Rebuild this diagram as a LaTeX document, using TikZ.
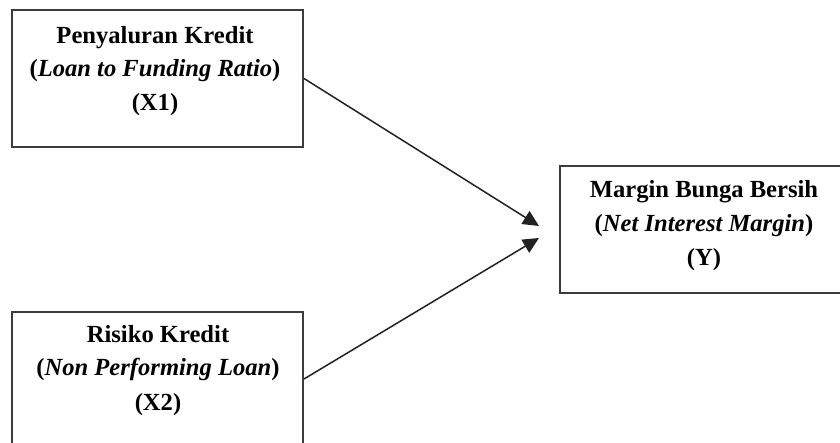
\documentclass[tikz,border=0pt]{standalone}
\usepackage{fontspec}
\setmainfont{Liberation Serif}
\usetikzlibrary{arrows.meta}
\definecolor{boxgray}{HTML}{3C3C3C}
\definecolor{arrowgray}{HTML}{222222}
\begin{document}
\begin{tikzpicture}[x=0.5pt,y=-0.5pt,
  boxst/.style={draw=boxgray, line width=1pt, fill=white, inner sep=0pt},
  lbl/.style={anchor=base, inner sep=0pt, font=\fontsize{12.3}{15}\selectfont\bfseries},
  arr/.style={draw=arrowgray, line width=0.75pt, -{Triangle[length=8pt,width=7.5pt]}}]
\useasboundingbox (0,0) rectangle (840,443);
\clip (0,0) rectangle (840,443);
\fill[white] (0,0) rectangle (840,443);
% boxes
\node[boxst, minimum width=145.5pt, minimum height=68.5pt] (box1) at (157.5,78.5) {};
\node[boxst, minimum width=145.5pt, minimum height=67pt] (box2) at (157.5,379) {};
\node[boxst, minimum width=144pt, minimum height=63.5pt] (boxy) at (704,229.5) {};
% texts
\node[lbl] (t1a) at (155,44) {Penyaluran Kredit};
\node[lbl] (t1b) at (155,77) {(\textit{Loan to Funding Ratio})};
\node[lbl] (t1c) at (155,111) {(X1)};
\node[lbl] (t2a) at (158,342) {Risiko Kredit};
\node[lbl] (t2b) at (158,375) {(\textit{Non Performing Loan})};
\node[lbl] (t2c) at (158,410) {(X2)};
\node[lbl] (tya) at (704,198) {Margin Bunga Bersih};
\node[lbl] (tyb) at (704,232) {(\textit{Net Interest Margin})};
\node[lbl] (tyc) at (704,265) {(Y)};
% arrows
\coordinate (e1) at (539,226);
\coordinate (e2) at (539,238);
\draw[arr] (box1.east) -- (e1);
\draw[arr] (box2.east) -- (e2);
\end{tikzpicture}
\end{document}
